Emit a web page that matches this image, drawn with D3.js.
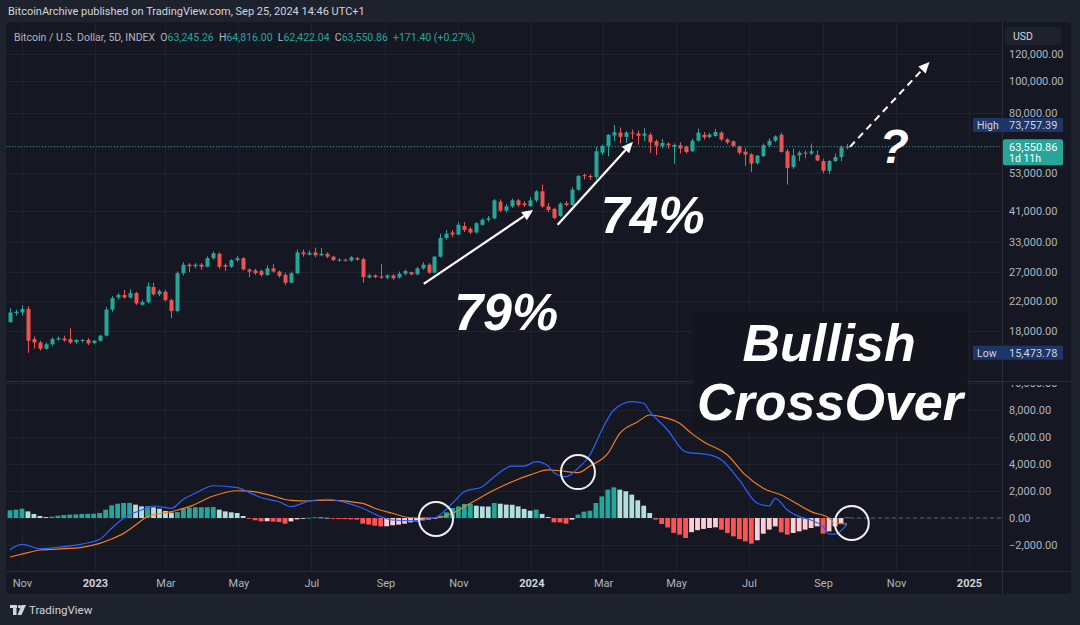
<!DOCTYPE html>
<html><head><meta charset="utf-8">
<script src="https://cdnjs.cloudflare.com/ajax/libs/d3/7.8.5/d3.min.js"></script>
<style>
html,body{margin:0;padding:0;background:#1e222d;}
svg{display:block;}
</style></head><body>
<svg id="chart" width="1080" height="625"></svg>
<script>
// ---------------- DATA ----------------
const barStart = "2022-10-22";      // first 5D bar
const barStepDays = 5;
const open  = [19100,20300,20400,20900,17000,16600,15900,16400,16950,17050,17000,16650,16800,16900,16550,16800,17400,20800,22600,23000,22600,23300,21500,21900,24300,23100,23500,22200,20600,26700,28300,28000,28300,27900,29600,30500,28200,27900,29200,29600,27400,27200,27100,26400,27600,27000,26400,25000,26700,30800,30300,30800,30200,30500,29900,29200,29300,29100,29600,29400,25900,26300,26100,25900,26300,25900,26600,26900,26500,27600,28300,26800,29900,34000,35300,34800,36900,36200,35300,37200,38500,38900,43600,41000,42200,44000,43100,42300,44000,46800,42200,41500,39500,43100,42600,47300,52300,52000,51600,61000,63900,68600,70000,68000,70000,69600,68500,69000,66000,63900,64900,63600,64200,63600,61600,66200,69000,67900,68400,70000,66800,66000,63700,61400,60300,56800,59600,64200,66200,69000,61600,55300,59900,61000,60600,60000,57600,53900,57600,59200,63245.26];
const high  = [21000,20800,21400,21300,17300,16800,16600,17200,17300,17400,18300,17000,17000,17100,16900,17500,21200,22800,23300,23800,23900,23500,22200,25100,25000,23900,23800,22400,27000,28800,28600,28600,28600,30000,31000,30800,28500,29400,30000,29800,27600,27500,27400,28200,28400,27200,26800,27000,31400,31400,31200,31800,31700,30800,30100,29600,29500,30000,29900,29700,26600,26500,28400,26500,26500,27000,27400,27000,27900,28800,28600,30100,35000,35900,35900,37900,37900,36600,37900,38900,39500,44400,44300,42900,44500,44400,43800,45000,47200,49000,43200,41800,43400,43800,48200,52400,52900,52600,63500,64500,69200,73757.39,72500,70800,71500,71000,72200,70000,66800,67100,65500,65000,65500,64000,67200,71900,70300,69800,71800,70700,67300,66300,64000,62800,60800,60000,65000,67300,68700,70000,62500,62700,61800,61900,64900,62000,58500,58000,60600,64000,64816.00];
const low   = [19000,20000,20000,15473.78,15900,15700,15800,16200,16800,16700,16400,16400,16600,16300,16400,16700,17300,20500,22300,22400,22400,21500,21400,21700,22900,22800,22000,19600,20400,26300,26900,27600,27300,27800,29300,27500,27100,27700,28900,27200,26000,26400,26100,26200,26800,25900,24600,24900,26500,29900,30200,29800,30000,29600,29000,28900,28900,28900,29100,25000,25800,25800,25700,25600,25500,25700,26300,26300,26300,27300,26600,26700,29700,33600,34200,34600,35400,34900,35000,37000,38000,38600,40600,40500,41800,42000,42100,42000,43400,41800,40600,38600,39300,42200,42400,47000,50800,50600,50800,60000,59500,66000,65000,65200,67000,64400,66000,60900,60000,62800,62700,56600,60700,60600,61200,65800,66700,67300,68000,66000,64600,63500,60200,55700,53500,56200,59200,63500,65500,61000,49000,54600,57600,58700,60000,57600,53000,52700,57200,57500,62422.04];
const close = [20400,20500,20900,16800,16600,15900,16400,17000,17100,16850,16600,16900,16900,16500,16800,17400,20800,22500,23000,22600,23300,21700,21900,24400,23100,23600,22200,20600,26700,28300,28000,28300,27900,29600,30600,27900,27900,29200,29600,27400,27000,26700,26400,27600,27000,26200,25000,26700,30800,30400,30700,30200,30500,29900,29200,29300,29100,29800,29300,26000,26300,26000,25900,26300,25800,26600,27100,26500,27600,28300,26800,29900,34000,35000,34800,37200,35900,35300,37600,38500,38900,44000,41000,42200,44000,42600,42600,44000,46800,42200,41200,39000,43000,42600,47300,52000,51900,51600,61600,63900,69000,70200,68000,70000,69600,68500,69500,65500,64000,65200,64200,64300,62800,61300,66200,70000,67800,69100,70300,66800,65400,63900,61000,60200,56600,59800,64200,66200,68200,61300,54900,59900,61000,60600,61600,57800,53900,57600,59200,63300,63550.86];

// MACD histogram, one value per bar
const macdHist = [570,620,690,490,300,150,70,100,170,220,250,270,300,310,320,370,620,940,1060,1110,1120,990,860,880,790,690,520,400,440,690,770,790,795,800,810,620,490,420,370,150,-50,-170,-250,-240,-270,-300,-420,-250,-100,-50,20,50,40,20,-50,-70,-80,-100,-120,-420,-490,-570,-620,-610,-540,-490,-420,-320,-250,-170,-120,-20,170,420,740,860,1040,1050,910,860,850,1110,1060,990,980,860,670,540,620,300,70,-320,-330,-420,-120,250,470,540,1110,1600,2100,2270,2100,1980,1730,1310,910,370,-120,-450,-700,-1100,-1230,-1480,-1050,-900,-810,-740,-690,-860,-1110,-1360,-1560,-1730,-1900,-1650,-1160,-860,-620,-1060,-1230,-1110,-990,-860,-740,-620,-1160,-990,-620,-370,50];
// MACD line and signal line, read at [bar index, value]
const macdLine = [[0,-2350],[2,-1950],[5,-2270],[8,-2170],[12,-1930],[15,-1580],[17,-760],[19,-20],[22,590],[24,890],[27,720],[29,1390],[31,1830],[34,2390],[38,2250],[40,1900],[42,1500],[45,1200],[47,850],[50,1260],[53,1390],[56,1160],[59,720],[62,100],[64,-150],[67,-200],[71,0],[74,1090],[76,1950],[79,2320],[81,3060],[84,3850],[86,3850],[88,4170],[90,3850],[91,3360],[93,3060],[95,3680],[97,4670],[99,6520],[101,8000],[104,8620],[106,8500],[107,7900],[110,6520],[113,4900],[117,4670],[119,4300],[122,2810],[125,1090],[127,890],[128,1460],[130,590],[132,100],[134,-150],[136,-640],[137,-1190],[138,-1190],[140,-470]];
const signalLine = [[0,-2890],[3,-2570],[5,-2370],[8,-2300],[12,-2170],[15,-1880],[17,-1560],[19,-1140],[21,-520],[23,100],[27,470],[30,840],[34,1630],[38,2020],[40,1990],[43,1750],[47,1300],[50,1260],[53,1330],[59,1090],[61,720],[64,350],[67,20],[71,0],[74,350],[77,1090],[81,2070],[84,2690],[87,3190],[90,3560],[92,3500],[95,3360],[97,3850],[100,4790],[102,6270],[105,7130],[107,7630],[109,7500],[112,7010],[114,6270],[116,5650],[120,4670],[123,3190],[126,2200],[129,1700],[132,960],[134,470],[137,0],[138,-390],[140,-440]];

const priceTicks = [120000,100000,80000,64000,53000,41000,33000,27000,22000,18000];
const macdTicks = [10000,8000,6000,4000,2000,0,-2000];
const timeTicks = ["2022-11-01","2023-01-01","2023-03-01","2023-05-01","2023-07-01","2023-09-01","2023-11-01","2024-01-01","2024-03-01","2024-05-01","2024-07-01","2024-09-01","2024-11-01","2025-01-01"];
const lastPrice = 63550.86, highPrice = 73757.39, lowPrice = 15473.78;

const headerText = "BitcoinArchive published on TradingView.com, Sep 25, 2024 14:46 UTC+1";
const legendParts = [["Bitcoin / U.S. Dollar, 5D, INDEX  ","n"],["O","n"],["63,245.26  ","v"],["H","n"],["64,816.00  ","v"],["L","n"],["62,422.04  ","v"],["C","n"],["63,550.86  ","v"],["+171.40 (+0.27%)","v"]];

// annotations in data coordinates: [bar index, price] or [bar index, macd]
const arrows = [
  {a:[69.2,24800], b:[87.5,41200], dashed:false},
  {a:[91.6,37200], b:[104.2,65700], dashed:false},
  {a:[140.5,63500], b:[153.8,113600], dashed:true}
];
const priceTexts = [
  {t:"79%", i:83.0, p:18090, size:52},
  {t:"74%", i:107.5, p:35200, size:52},
  {t:"?", i:147.9, p:56800, size:48},
  {t:"Bullish", i:137.0, p:14600, size:52}
];
const macdTexts = [{t:"CrossOver", i:137.15, v:7260, size:52}];
const macdCircles = [[71.25,-70],[95.0,3400],[140.8,-370]];

// ---------------- LAYOUT ----------------
const L = 6, R = 1002, AX = 1071, T = 22, PB = 380, MT = 382, MB = 571, BOT = 594;
const C_BG = "#151823", C_GRID = "#1f2330", C_SEP = "#2a2e39", C_TXT = "#b2b5be";
const UP = "#26a69a", DN = "#ef5350";
const uiFont = "Roboto, 'Liberation Sans', Arial, sans-serif";

const svg = d3.select("#chart");
const parse = d3.utcParse("%Y-%m-%d");
const first = parse(barStart);
const barDate = i => d3.utcDay.offset(first, i * barStepDays);
const n = open.length;

const x = d3.scaleUtc().domain([barDate(0), barDate(n - 1)]).range([10, 847]);
const xi = d3.scaleLinear().domain([0, n - 1]).range([x(barDate(0)), x(barDate(n - 1))]);
const y = d3.scaleLog().domain([18000, 120000]).range([330.7, 54]);
const ym = d3.scaleLinear().domain([-2000, 8000]).range([545, 410]);

// background
svg.append("rect").attr("width", 1080).attr("height", 625).attr("fill", "#1e222d");
svg.append("rect").attr("x", L).attr("y", T).attr("width", AX - L).attr("height", BOT - T).attr("rx", 3).attr("fill", C_BG);

const defs = svg.append("defs");
defs.append("clipPath").attr("id", "clipP").append("rect").attr("x", L).attr("y", T).attr("width", R - L).attr("height", PB - T);
defs.append("clipPath").attr("id", "clipM").append("rect").attr("x", L).attr("y", MT).attr("width", R - L).attr("height", MB - MT);
defs.append("clipPath").attr("id", "clipMA").append("rect").attr("x", R).attr("y", 385).attr("width", AX - R).attr("height", MB - 385);

// header
svg.append("text").attr("x", 8).attr("y", 15).attr("fill", "#d1d4dc").attr("font-size", 11).attr("font-family", uiFont).text(headerText);

// grid
const grid = svg.append("g");
const tDates = timeTicks.map(parse);
grid.selectAll("line.v").data(tDates).join("line")
  .attr("x1", d => Math.round(x(d)) + 0.5).attr("x2", d => Math.round(x(d)) + 0.5)
  .attr("y1", T).attr("y2", MB).attr("stroke", C_GRID);
grid.selectAll("line.hp").data(priceTicks).join("line")
  .attr("x1", L).attr("x2", R).attr("y1", d => Math.round(y(d)) + 0.5).attr("y2", d => Math.round(y(d)) + 0.5).attr("stroke", C_GRID);
grid.selectAll("line.hm").data(macdTicks.filter(v => ym(v) > MT)).join("line")
  .attr("x1", L).attr("x2", R).attr("y1", d => Math.round(ym(d)) + 0.5).attr("y2", d => Math.round(ym(d)) + 0.5).attr("stroke", C_GRID);

// separators
svg.append("line").attr("x1", L).attr("x2", AX).attr("y1", 381.5).attr("y2", 381.5).attr("stroke", C_SEP);
svg.append("line").attr("x1", L).attr("x2", AX).attr("y1", MB + 0.5).attr("y2", MB + 0.5).attr("stroke", C_SEP);
svg.append("line").attr("x1", R + 0.5).attr("x2", R + 0.5).attr("y1", T).attr("y2", BOT).attr("stroke", C_SEP);

// candles
const bars = d3.range(n).map(i => ({i, d: barDate(i), o: open[i], h: high[i], l: low[i], c: close[i]}));
const gP = svg.append("g").attr("clip-path", "url(#clipP)");
gP.selectAll("line.wick").data(bars).join("line")
  .attr("x1", d => Math.round(x(d.d)) + 0.5).attr("x2", d => Math.round(x(d.d)) + 0.5)
  .attr("y1", d => y(d.h)).attr("y2", d => y(d.l))
  .attr("stroke", d => d.c >= d.o ? UP : DN).attr("stroke-width", 1);
gP.selectAll("rect.body").data(bars).join("rect")
  .attr("x", d => Math.round(x(d.d)) - 1.5).attr("width", 4)
  .attr("y", d => Math.min(y(d.o), y(d.c)))
  .attr("height", d => Math.max(1, Math.abs(y(d.o) - y(d.c))))
  .attr("fill", d => d.c >= d.o ? UP : DN);

// last price dotted line
gP.append("line").attr("x1", L).attr("x2", R).attr("y1", y(lastPrice)).attr("y2", y(lastPrice))
  .attr("stroke", UP).attr("stroke-dasharray", "1,2").attr("opacity", 0.9);

// MACD pane
const gM = svg.append("g").attr("clip-path", "url(#clipM)");
gM.append("line").attr("x1", xi(n - 1) + 3).attr("x2", R).attr("y1", ym(0)).attr("y2", ym(0))
  .attr("stroke", "#5d606b").attr("stroke-dasharray", "4,3");
const histColor = i => {
  const v = macdHist[i], p = i > 0 ? macdHist[i - 1] : -Infinity;
  if (v >= 0) return p < v ? "#26a69a" : "#b2dfdb";
  return p < v ? "#ffcdd2" : "#ff5252";
};
gM.selectAll("rect.h").data(macdHist).join("rect")
  .attr("x", (v, i) => x(barDate(i)) - 2.4).attr("width", 4.8)
  .attr("y", v => Math.min(ym(0), ym(v))).attr("height", v => Math.max(0.8, Math.abs(ym(v) - ym(0))))
  .attr("fill", (v, i) => histColor(i));
const ln = d3.line().x(d => xi(d[0])).y(d => ym(d[1])).curve(d3.curveMonotoneX);
gM.append("path").attr("d", ln(signalLine)).attr("fill", "none").attr("stroke", "#f57c1f").attr("stroke-width", 1.2);
gM.append("path").attr("d", ln(macdLine)).attr("fill", "none").attr("stroke", "#2962ff").attr("stroke-width", 1.2);

// annotation text + background box
const gA = svg.append("g");
const boxRect = gA.append("rect").attr("fill", "#13161f");
const annFont = "'Liberation Sans', Arial, Helvetica, sans-serif";
const allTexts = [];
priceTexts.forEach(t => {
  const el = gA.append("text").attr("x", xi(t.i)).attr("y", y(t.p)).attr("text-anchor", "middle")
    .attr("font-family", annFont).attr("font-weight", "bold").attr("font-style", "italic")
    .attr("font-size", t.size).attr("fill", "#ffffff").text(t.t);
  allTexts.push({t: t.t, el});
});
macdTexts.forEach(t => {
  const el = gA.append("text").attr("x", xi(t.i)).attr("y", ym(t.v)).attr("text-anchor", "middle")
    .attr("font-family", annFont).attr("font-weight", "bold").attr("font-style", "italic")
    .attr("font-size", t.size).attr("fill", "#ffffff").text(t.t);
  allTexts.push({t: t.t, el});
});
{
  const b1 = allTexts.find(d => d.t === "Bullish").el.node().getBBox();
  const b2 = allTexts.find(d => d.t === "CrossOver").el.node().getBBox();
  const x0 = Math.min(b1.x, b2.x) - 4, x1 = Math.max(b1.x + b1.width, b2.x + b2.width) + 2;
  const y0 = Math.min(b1.y, b2.y) - 2, y1 = Math.max(b1.y + b1.height, b2.y + b2.height) + 1;
  boxRect.attr("x", x0).attr("y", y0).attr("width", x1 - x0).attr("height", y1 - y0);
}

// arrows
arrows.forEach(a => {
  const x1 = xi(a.a[0]), y1 = y(a.a[1]), x2 = xi(a.b[0]), y2 = y(a.b[1]);
  const ang = Math.atan2(y2 - y1, x2 - x1), hl = 11, hw = 5;
  const bx = x2 - hl * Math.cos(ang), by = y2 - hl * Math.sin(ang);
  gA.append("line").attr("x1", x1).attr("y1", y1).attr("x2", bx).attr("y2", by)
    .attr("stroke", "#ffffff").attr("stroke-width", a.dashed ? 2 : 2.2)
    .attr("stroke-dasharray", a.dashed ? "7,5" : null);
  const px = -Math.sin(ang), py = Math.cos(ang);
  gA.append("path").attr("d", `M${x2},${y2}L${bx + px * hw},${by + py * hw}L${bx - px * hw},${by - py * hw}Z`).attr("fill", "#ffffff");
});

// circles
gA.selectAll("circle").data(macdCircles).join("circle")
  .attr("cx", d => xi(d[0])).attr("cy", d => ym(d[1])).attr("r", 17)
  .attr("fill", "none").attr("stroke", "#f0f0f0").attr("stroke-width", 2);

// legend
const leg = svg.append("text").attr("x", 14).attr("y", 41).attr("font-size", 10.5).attr("font-family", uiFont).attr("xml:space", "preserve");
leg.selectAll("tspan").data(legendParts).join("tspan").attr("fill", d => d[1] === "v" ? UP : C_TXT).text(d => d[0]);

// price axis
const fmt = d3.format(",.2f");
const pAx = svg.append("g").attr("transform", `translate(1009,0)`)
  .call(d3.axisRight(y).tickValues(priceTicks).tickFormat(fmt).tickSize(0).tickPadding(0));
pAx.select(".domain").remove();
pAx.selectAll("text").attr("fill", C_TXT).attr("font-size", 11).attr("font-family", uiFont);

// macd axis
const mAx = svg.append("g").attr("clip-path", "url(#clipMA)").append("g").attr("transform", `translate(1009,0)`)
  .call(d3.axisRight(ym).tickValues(macdTicks).tickFormat(fmt).tickSize(0).tickPadding(0));
mAx.select(".domain").remove();
mAx.selectAll("text").attr("fill", C_TXT).attr("font-size", 11).attr("font-family", uiFont);

// time axis
const tfmt = d => d.getUTCMonth() === 0 ? d3.utcFormat("%Y")(d) : d3.utcFormat("%b")(d);
const tAx = svg.append("g").attr("transform", `translate(0,577)`)
  .call(d3.axisBottom(x).tickValues(tDates).tickFormat(tfmt).tickSize(0).tickPadding(2));
tAx.select(".domain").remove();
tAx.selectAll("text").attr("fill", d => d.getUTCMonth() === 0 ? "#d1d4dc" : C_TXT)
  .attr("font-weight", d => d.getUTCMonth() === 0 ? "bold" : null)
  .attr("font-size", 11).attr("font-family", uiFont);

// USD box
svg.append("rect").attr("x", 1005).attr("y", 27).attr("width", 56).attr("height", 18).attr("rx", 3).attr("fill", "#1e222d");
svg.append("text").attr("x", 1013).attr("y", 40).attr("fill", "#d1d4dc").attr("font-size", 10.5).attr("font-family", uiFont).text("USD");

// high / low labels
[["High", highPrice], ["Low", lowPrice]].forEach(([lab, v]) => {
  const yy = y(v);
  svg.append("rect").attr("x", 973).attr("y", yy - 7).attr("width", 90).attr("height", 14).attr("fill", "#1d3569");
  svg.append("text").attr("x", 977).attr("y", yy + 3.8).attr("fill", "#d1d4dc").attr("font-size", 10.5).attr("font-family", uiFont).text(lab);
  svg.append("text").attr("x", 1009).attr("y", yy + 4).attr("fill", "#d1d4dc").attr("font-size", 11).attr("font-family", uiFont).text(fmt(v));
});

// last price label
{
  const yy = y(lastPrice);
  svg.append("rect").attr("x", 1003).attr("y", yy - 7.5).attr("width", 60).attr("height", 26).attr("rx", 2).attr("fill", "#26a69a");
  svg.append("text").attr("x", 1009).attr("y", yy + 4).attr("fill", "#ffffff").attr("font-size", 11).attr("font-family", uiFont).text(fmt(lastPrice));
  svg.append("text").attr("x", 1009).attr("y", yy + 15.5).attr("fill", "#ffffff").attr("font-size", 10.5).attr("font-family", uiFont).text("1d 11h");
}

// footer logo
const lg = svg.append("g").attr("fill", "#d1d4dc");
lg.append("rect").attr("x", 10).attr("y", 605).attr("width", 7).attr("height", 3);
lg.append("rect").attr("x", 13).attr("y", 605).attr("width", 3.5).attr("height", 10);
lg.append("circle").attr("cx", 19.5).attr("cy", 606.6).attr("r", 1.7);
lg.append("path").attr("d", "M21.5,605 L26,605 L21.5,615 L17.5,615 Z");
svg.append("text").attr("x", 29).attr("y", 614).attr("fill", "#d1d4dc").attr("font-size", 11.5).attr("font-family", uiFont).text("TradingView");
</script>
</body></html>
